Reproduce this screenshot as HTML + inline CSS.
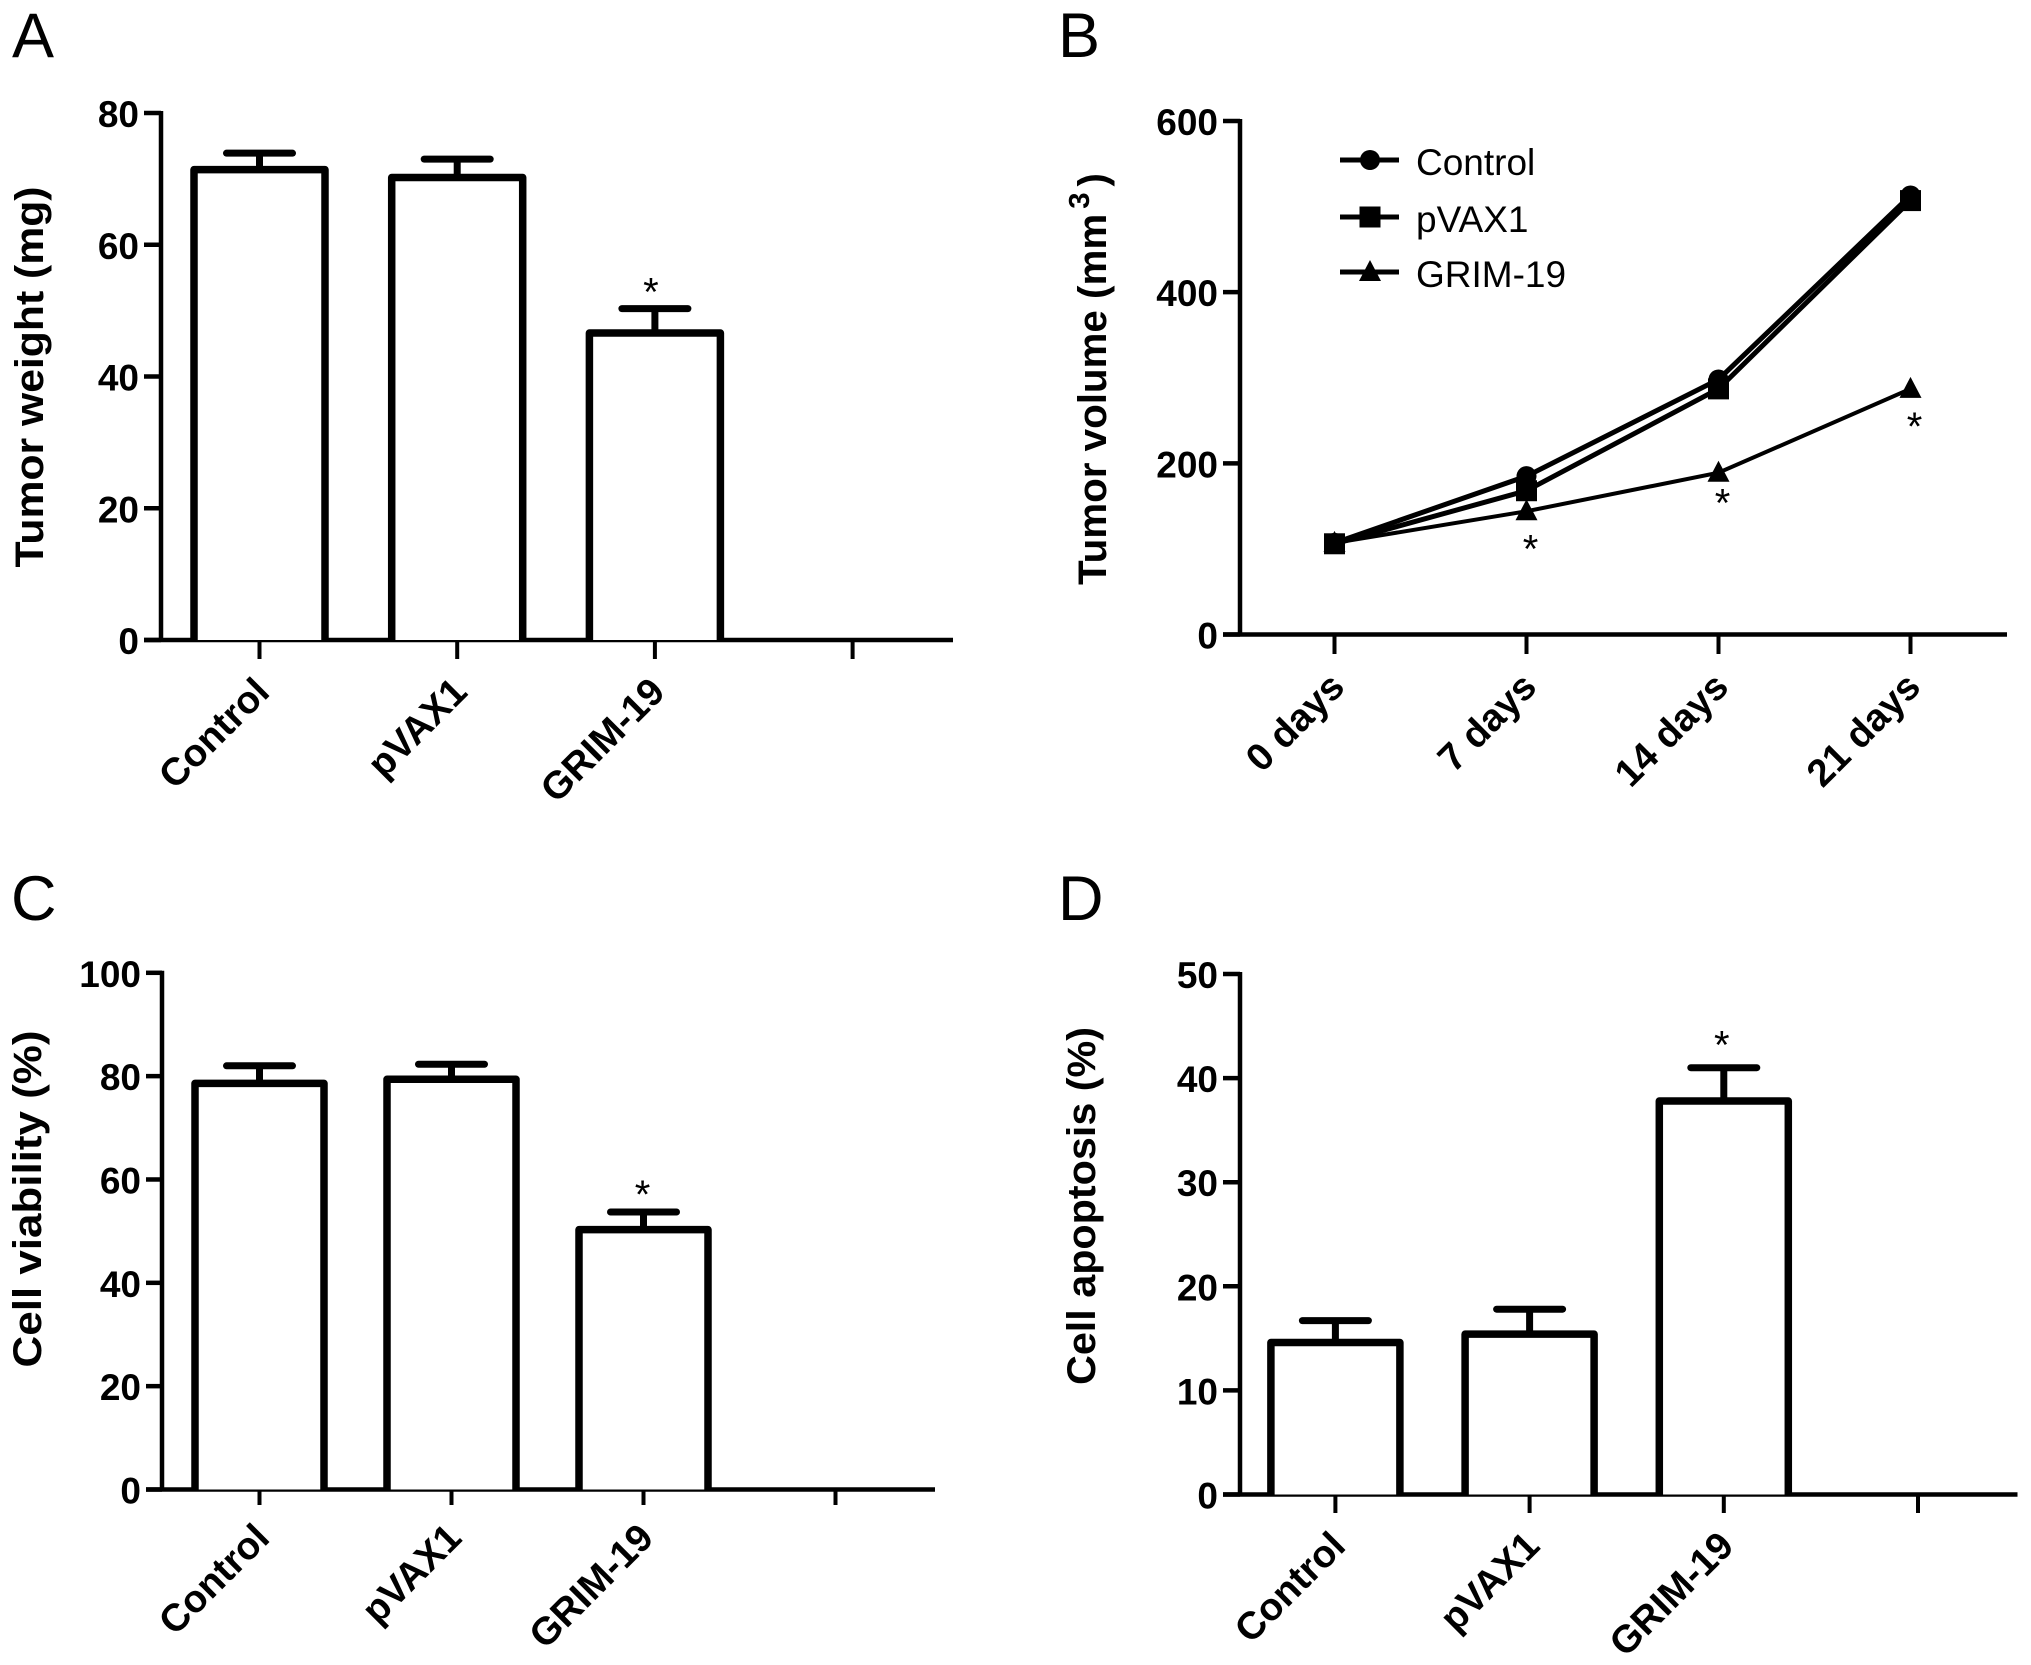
<!DOCTYPE html>
<html lang="en">
<head>
<meta charset="utf-8">
<title>Tumor and cell measurements</title>
<style>
html,body{margin:0;padding:0;background:#fff;}
svg{display:block;}
text{font-family:"Liberation Sans",sans-serif;fill:#000;}
</style>
</head>
<body>
<svg id="figure" xmlns="http://www.w3.org/2000/svg" width="2031" height="1665" viewBox="0 0 2031 1665"></svg>
<script>
// Panel A data
const aCategories = ['Control', 'pVAX1', 'GRIM-19', ''];
const aValues = [71.4, 70.2, 46.6];
const aErrorTops = [73.9, 73.0, 50.3];
const aTicks = [0, 20, 40, 60, 80];
const aStarred = [2];

// Panel B data
const bCategories = ['0 days', '7 days', '14 days', '21 days'];
const bControl = [107, 185, 298, 513];
const bPvax = [106, 168, 287, 507];
const bGrim = [107, 144, 189, 287];
const bTicks = [0, 200, 400, 600];
const bLegend = ['Control', 'pVAX1', 'GRIM-19'];

// Panel C data
const cCategories = ['Control', 'pVAX1', 'GRIM-19', ''];
const cValues = [78.6, 79.4, 50.3];
const cErrorTops = [82.0, 82.3, 53.7];
const cTicks = [0, 20, 40, 60, 80, 100];
const cStarred = [2];

// Panel D data
const dCategories = ['Control', 'pVAX1', 'GRIM-19', ''];
const dValues = [14.6, 15.4, 37.8];
const dErrorTops = [16.7, 17.8, 41.0];
const dTicks = [0, 10, 20, 30, 40, 50];
const dStarred = [2];

const svg = document.getElementById('figure');
const NS = 'http://www.w3.org/2000/svg';

function make(tag, parent, attrs, txt) {
  const el = document.createElementNS(NS, tag);
  for (const k in attrs) el.setAttribute(k, attrs[k]);
  if (txt !== undefined) el.textContent = txt;
  parent.appendChild(el);
  return el;
}
function line(parent, x1, y1, x2, y2, w, cap) {
  return make('line', parent, {x1, y1, x2, y2, stroke: '#000', 'stroke-width': w, 'stroke-linecap': cap || 'butt'});
}

function drawAxes(cfg) {
  const g = make('g', svg, {});
  
  

  const letter = make('text', g, {x: cfg.letterX, y: cfg.letterY, 'font-size': 63}, cfg.letter);
  
  

  const yAxis = line(g, cfg.axisX, cfg.yAt(cfg.yMax) - 2, cfg.axisX, cfg.yAt(0) + 2, 4.5);
  
  

  const xAxis = line(g, cfg.tickLeft, cfg.yAt(0), cfg.axisEnd, cfg.yAt(0), 4.5);
  
  

  cfg.ticks.forEach(function (t) {
    const tk = line(g, cfg.tickLeft, cfg.yAt(t), cfg.axisX, cfg.yAt(t), 4.5);
    
    
    const lb = make('text', g, {x: cfg.tickLeft - 5, y: cfg.yAt(t) + 14, 'text-anchor': 'end', 'font-size': 37, 'font-weight': 700}, String(t));
    
    
  });

  cfg.categories.forEach(function (c, i) {
    const x = cfg.xAt(i);
    const tk = line(g, x, cfg.yAt(0), x, cfg.tickBottom, 4);
    
    
    if (c) {
      const ax = x + 12, ay = cfg.tickBottom + 35;
      const lb = make('text', g, {x: ax, y: ay, 'text-anchor': 'end', 'font-size': 38.5, 'font-weight': 700, transform: 'rotate(-45 ' + ax + ' ' + ay + ')'}, c);
      
      
    }
  });

  const title = make('text', g, {
    x: 0, y: 0, 'text-anchor': 'middle', 'font-size': 40, 'font-weight': 700,
    textLength: cfg.titleLen, lengthAdjust: 'spacingAndGlyphs',
    transform: 'translate(' + cfg.titleX + ' ' + cfg.titleY + ') rotate(-90)'
  }, cfg.title);
  
  
  if (cfg.titleSup) {
    title.textContent = cfg.title;
    const sup = make('tspan', title, {dy: -17, 'font-size': 29, dx: 5}, cfg.titleSup);
    
    
    const close = make('tspan', title, {dy: 17, dx: 6}, ')');
    
    
  }
  return g;
}

function star(parent, name, x, y) {
  const s = make('text', parent, {x: x, y: y + 22, 'text-anchor': 'middle', 'font-size': 40}, '*');
  
  
}

function drawBars(cfg) {
  const g = make('g', svg, {});
  
  
  cfg.values.forEach(function (v, i) {
    const x = cfg.xAt(i);
    const stem = line(g, x, cfg.yAt(cfg.errors[i]), x, cfg.yAt(v), 7);
    
    
    const capLine = line(g, x - 33, cfg.yAt(cfg.errors[i]), x + 33, cfg.yAt(cfg.errors[i]), 7, 'round');
    
    
    const bar = make('path', g, {
      d: 'M' + (x - cfg.barW / 2) + ' ' + cfg.yAt(0) + 'V' + cfg.yAt(v) + 'H' + (x + cfg.barW / 2) + 'V' + cfg.yAt(0),
      fill: '#fff', stroke: '#000', 'stroke-width': 7.5, 'stroke-linejoin': 'round'
    });
    
    
  });
  cfg.starred.forEach(function (i) {
    star(g, cfg.id + '-significance-star', cfg.xAt(i) - cfg.starDx, cfg.yAt(cfg.errors[i]) - cfg.starGap);
  });
}

function marker(parent, kind, x, y, name) {
  let m;
  if (kind === 'circle') {
    m = make('circle', parent, {cx: x, cy: y, r: 10, fill: '#000'});
  } else if (kind === 'square') {
    m = make('rect', parent, {x: x - 10.5, y: y - 10.5, width: 21, height: 21, fill: '#000'});
  } else {
    m = make('polygon', parent, {points: (x - 11) + ',' + (y + 9) + ' ' + (x + 11) + ',' + (y + 9) + ' ' + x + ',' + (y - 12), fill: '#000'});
  }
  
  
}

// Panel layouts
const A = {id: 'panel-a', letter: 'A', letterX: 12, letterY: 57, categories: aCategories, ticks: aTicks, yMax: 80,
  values: aValues, errors: aErrorTops, starred: aStarred, barW: 131, starDx: 4, starGap: 25,
  axisX: 161, tickLeft: 144, axisEnd: 953, tickBottom: 659,
  title: 'Tumor weight (mg)', titleX: 43, titleY: 377, titleLen: 381,
  xAt: function (i) { return 259.5 + i * 197.7; },
  yAt: function (v) { return 640 - v / 80 * 527; }};

const B = {id: 'panel-b', letter: 'B', letterX: 1058, letterY: 57, categories: bCategories, ticks: bTicks, yMax: 600,
  axisX: 1240, tickLeft: 1223, axisEnd: 2007, tickBottom: 654,
  title: 'Tumor volume (mm', titleSup: '3', titleX: 1106, titleY: 379, titleLen: 412,
  xAt: function (i) { return 1334.5 + i * 192; },
  yAt: function (v) { return 634.5 - v / 600 * 513.5; }};

const C = {id: 'panel-c', letter: 'C', letterX: 11, letterY: 920, categories: cCategories, ticks: cTicks, yMax: 100,
  values: cValues, errors: cErrorTops, starred: cStarred, barW: 129, starDx: 1, starGap: 26,
  axisX: 162, tickLeft: 146, axisEnd: 935, tickBottom: 1505,
  title: 'Cell viability (%)', titleX: 41, titleY: 1199, titleLen: 337,
  xAt: function (i) { return 259.5 + i * 192; },
  yAt: function (v) { return 1489.5 - v / 100 * 516.7; }};

const D = {id: 'panel-d', letter: 'D', letterX: 1058, letterY: 920, categories: dCategories, ticks: dTicks, yMax: 50,
  axisX: 1240, tickLeft: 1223, axisEnd: 2017.5, tickBottom: 1513,
  values: dValues, errors: dErrorTops, starred: dStarred, barW: 129, starDx: 2, starGap: 31,
  title: 'Cell apoptosis (%)', titleX: 1095, titleY: 1206, titleLen: 358,
  xAt: function (i) { return 1335.4 + i * 194.2; },
  yAt: function (v) { return 1494.5 - v / 50 * 520.5; }};

drawAxes(A); drawBars(A);
drawAxes(C); drawBars(C);
drawAxes(D); drawBars(D);
const bAxes = drawAxes(B);

// Panel B series
const bSeries = [
  {name: 'control', values: bControl, kind: 'circle', width: 5},
  {name: 'pvax1', values: bPvax, kind: 'square', width: 5},
  {name: 'grim-19', values: bGrim, kind: 'triangle', width: 4}
];
const starOffsets = [0, 29, 22, 29];
const legendRows = [160, 217, 272];

bSeries.slice().reverse().forEach(function (s) {
  const g = make('g', svg, {});
  
  
  const pts = s.values.map(function (v, i) { return B.xAt(i) + ',' + B.yAt(v); }).join(' ');
  const pl = make('polyline', g, {points: pts, fill: 'none', stroke: '#000', 'stroke-width': s.width});
  
  
  s.values.forEach(function (v, i) {
    marker(g, s.kind, B.xAt(i), B.yAt(v), 'panel-b-point-' + s.name);
  });
});

bGrim.forEach(function (v, i) {
  if (i > 0) star(bAxes, 'panel-b-significance-star', B.xAt(i) + 4, B.yAt(v) + starOffsets[i]);
});

const legend = make('g', svg, {});


bLegend.forEach(function (label, i) {
  const y = legendRows[i];
  const ll = line(legend, 1340, y, 1399, y, 5);
  
  
  marker(legend, bSeries[i].kind, 1370, y, 'legend-marker');
  const t = make('text', legend, {x: 1416, y: y + 15, 'font-size': 37}, label);
  
  
});
</script>
</body>
</html>
